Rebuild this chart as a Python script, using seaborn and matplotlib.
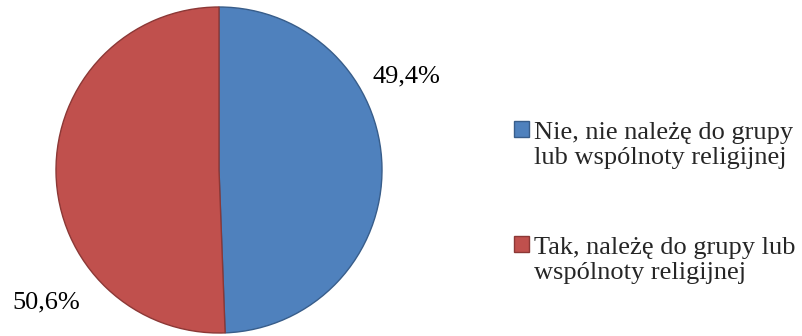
import matplotlib
matplotlib.use("Agg")
import matplotlib.pyplot as plt
from matplotlib.patches import Patch, Rectangle
from matplotlib.legend_handler import HandlerPatch
import seaborn as sns

sns.set_theme(style="white")
plt.rcParams["font.family"] = ["Liberation Serif", "DejaVu Serif"]

categories = ["Nie, nie należę do grupy\nlub wspólnoty religijnej",
              "Tak, należę do grupy lub\nwspólnoty religijnej"]
values = [49.4, 50.6]
value_labels = ["49,4%", "50,6%"]
colors = ["#4F81BD", "#C0504D"]
edge_colors = ["#385D8A", "#8C3836"]

FS = 19
LINE = 1.2
fig = plt.figure(figsize=(8.03, 3.36), dpi=100)
W, H = 803, 336
cx, cy, r = 219, 170, 163
ax = fig.add_axes([(cx - r) / W, (H - cy - r) / H, 2 * r / W, 2 * r / H])

wedges, _ = ax.pie(values, colors=colors, startangle=90, counterclock=False,
                   radius=1.0)
for w, ec in zip(wedges, edge_colors):
    w.set_edgecolor(ec)
    w.set_linewidth(1.0)
ax.set_xlim(-1, 1)
ax.set_ylim(-1, 1)
ax.set_aspect("equal")
ax.axis("off")

# value labels beside the slices (baseline positions)
label_pos = [(406, 82), (46, 308)]
for txt, (px, py) in zip(value_labels, label_pos):
    fig.text(px / W, 1 - py / H, txt, ha="center", va="baseline",
             fontsize=FS, color="black")


# legend swatch aligned with the first line of its two-line label
def top_swatch(legend, orig_handle, xdescent, ydescent, width, height, fontsize):
    shift = 0.5 * fontsize * LINE
    return Rectangle((-xdescent, -ydescent + shift), width, height)


handles = [Patch(facecolor=c, edgecolor=e, linewidth=1.0)
           for c, e in zip(colors, edge_colors)]
leg = fig.legend(handles, categories, loc="upper left",
                 bbox_to_anchor=(514 / W, 1 - 122 / H), frameon=False,
                 fontsize=FS, handlelength=0.55, handleheight=0.55,
                 handletextpad=0.2, labelspacing=2.55, borderpad=0,
                 borderaxespad=0,
                 handler_map={Patch: HandlerPatch(patch_func=top_swatch)})
for t in leg.get_texts():
    t.set_linespacing(LINE)

fig.savefig("out.png", dpi=100)
